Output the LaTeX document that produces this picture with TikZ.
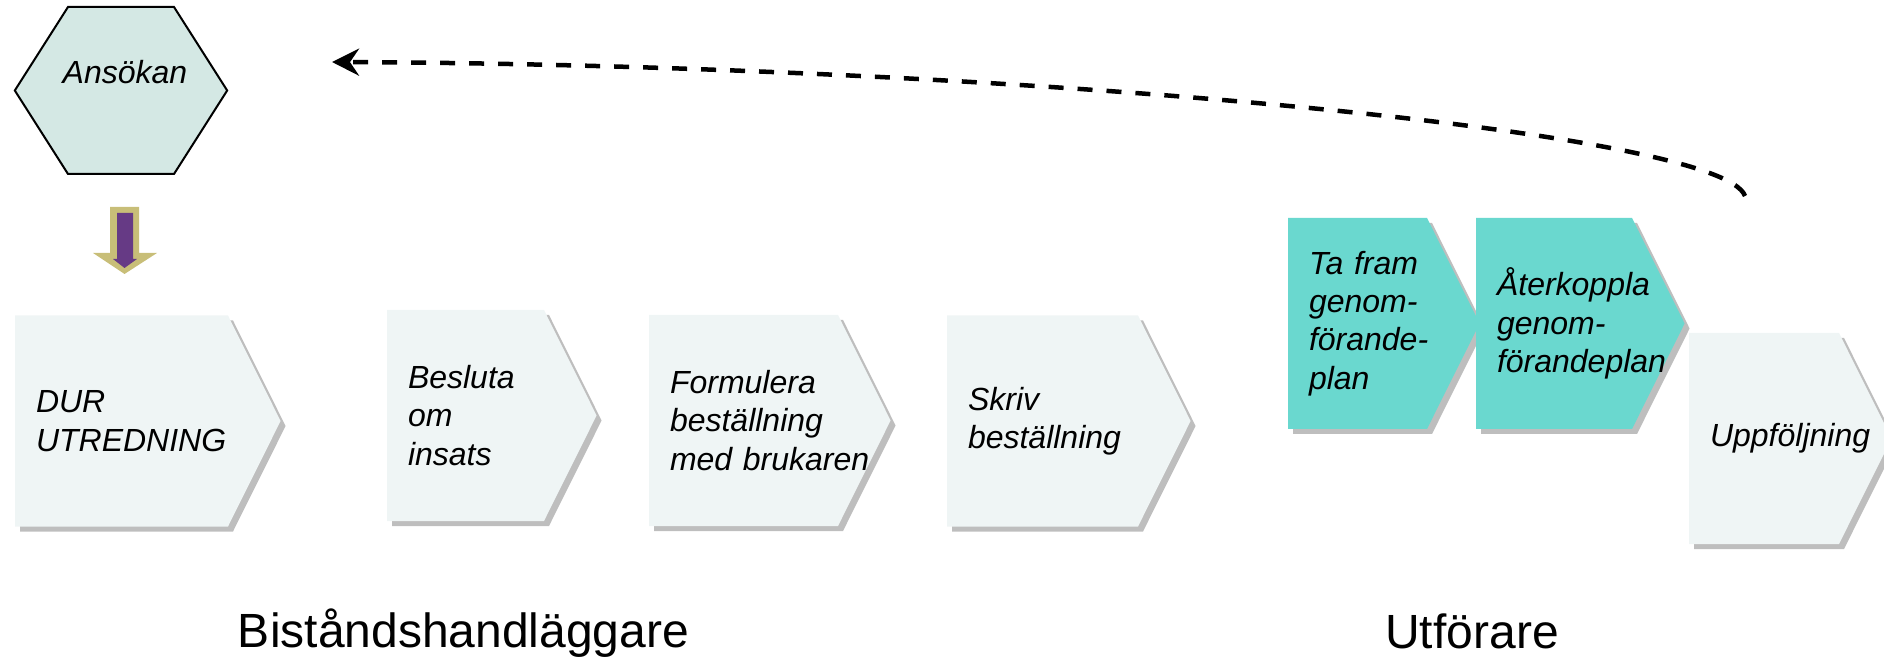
\documentclass[tikz,border=0pt]{standalone}
\usepackage{fontspec}
\setmainfont{Liberation Sans}
\usetikzlibrary{shapes.symbols,shadows,arrows.meta}
\hyphenpenalty=10000
\exhyphenpenalty=10000

\definecolor{hexfill}{HTML}{D4E8E4}
\definecolor{palefill}{HTML}{EFF5F5}
\definecolor{tealfill}{HTML}{6AD8CF}
\definecolor{shadowgray}{HTML}{BEBEBE}
\definecolor{khaki}{HTML}{C8BE78}
\definecolor{lila}{HTML}{663A85}

\tikzset{
  stepbox/.style={signal, signal to=east, signal from=nowhere, signal pointer angle=127,
    minimum height=211pt, inner xsep=21pt, inner ysep=0pt, outer sep=0pt, anchor=west,
    align=left, font=\fontsize{32}{38.4}\selectfont\itshape,
    drop shadow={shadow xshift=5pt, shadow yshift=-5pt, opacity=1, fill=shadowgray}},
  palestep/.style={stepbox, fill=palefill},
  tealstep/.style={stepbox, fill=tealfill},
  role/.style={anchor=base, font=\fontsize{48}{57.6}\selectfont},
  feedback/.style={line width=4.5pt, dash pattern=on 15pt off 14pt,
    -{Stealth[length=27pt, width=27pt, inset=9pt]}}
}

\begin{document}
\begin{tikzpicture}[x=1pt, y=1pt]
\useasboundingbox (0,0) rectangle (1884,659);

% ansokan
\node[signal, signal to=east and west, signal pointer angle=115, minimum height=167pt,
  inner xsep=53pt, inner ysep=0pt, draw, line width=2pt, fill=hexfill] (ansokan) at (121,568.5) {};
\node[font=\fontsize{32}{38.4}\selectfont\itshape] (ansokantext) at (125,587) {Ansökan};

% block arrow down to DUR
\fill[khaki] (110,452) -- (139,452) -- (139,406) -- (157,406) -- (124.5,385)
  -- (93,406) -- (110,406) -- cycle;
\fill[lila] (117,446) -- (133,446) -- (133,400) -- (137,400) -- (124.5,391)
  -- (113,400) -- (117,400) -- cycle;

% bistandshandlaggare
\node[palestep, text width=171pt] (dur) at (15,238) {DUR\\UTREDNING};
\node[palestep, text width=115pt] (besluta) at (387,243.5) {Besluta\\om\\insats};
\node[palestep, text width=147pt] (formulera) at (649,238.5) {Formulera\\beställning\\med~brukaren};
\node[palestep, text width=149pt] (skriv) at (947,238) {Skriv\\beställning};

% utforare
\node[tealstep, text width=97pt] (tafram) at (1288,335.5) {Ta~fram\\genom-\\förande-\\plan};
\node[tealstep, text width=114pt] (aterkoppla) at (1476,335.5) {Återkoppla\\genom-\\förandeplan};
\node[palestep, text width=108pt] (uppfoljning) at (1689,220.5) {Uppföljning};

% feedback
\coordinate (fbstart) at (1745,463);
\coordinate (fbend) at (332,597);
\draw[feedback] (fbstart) .. controls (1722,529) and (1000,594) .. (fbend);

\node[role] (handlaggare) at (463.5,12) {Biståndshandläggare};
\node[role] (utforare) at (1472,11) {Utförare};
\end{tikzpicture}
\end{document}
